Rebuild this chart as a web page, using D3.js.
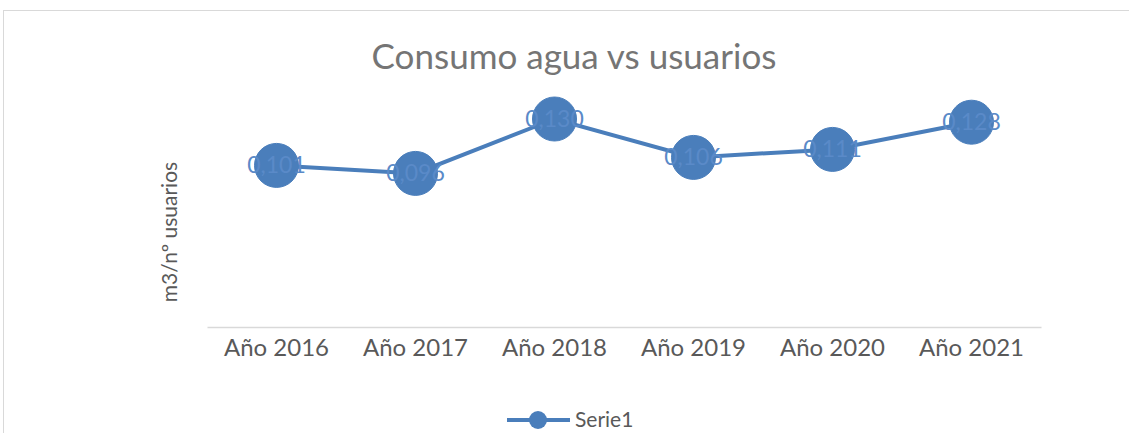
<!DOCTYPE html>
<html>
<head>
<meta charset="utf-8">
<script src="https://cdn.jsdelivr.net/npm/d3@7"></script>
<style>
  body { margin: 0; background: #fff; }
  text { font-family: Lato, 'Open Sans', sans-serif; }
</style>
</head>
<body>
<svg id="chart" width="1129" height="433"></svg>
<script>
let categories = ['Año 2016', 'Año 2017', 'Año 2018', 'Año 2019', 'Año 2020', 'Año 2021'];
let values = [0.101, 0.096, 0.130, 0.106, 0.111, 0.128];
let valueLabels = ['0,101', '0,096', '0,130', '0,106', '0,111', '0,128'];
let yDomain = [0, 0.14];

let blue = '#4a7ebb';
let plotLeft = 207;
let plotRight = 1041;
let plotTop = 103;
let plotBottom = 327;

const svg = d3.select('#chart');

// chart frame
svg.append('rect')
  .attr('x', 3.5)
  .attr('y', 10.5)
  .attr('width', 1140)
  .attr('height', 440)
  .attr('fill', '#fff')
  .attr('stroke', '#d9d9d9')
  .attr('stroke-width', 1);

let x = d3.scaleBand()
  .domain(categories)
  .range([plotLeft, plotRight]);

let y = d3.scaleLinear()
  .domain(yDomain)
  .range([plotBottom, plotTop]);

// title
svg.append('text')
  .attr('x', 574)
  .attr('y', 69)
  .attr('text-anchor', 'middle')
  .style('font-size', '35px')
  .style('fill', '#757575')
  .text('Consumo agua vs usuarios');

// x axis
let xAxis = svg.append('g')
  .attr('transform', 'translate(0,' + plotBottom + ')')
  .call(d3.axisBottom(x).tickSize(0).tickPadding(12));
xAxis.select('.domain').attr('stroke', '#d9d9d9').attr('stroke-width', 1.5);
xAxis.selectAll('text')
  .style('font-size', '24px')
  .style('fill', '#595959')
  .style('font-family', 'Lato, sans-serif');

// y axis title
svg.append('text')
  .attr('transform', 'translate(177,' + 232 + ') rotate(-90)')
  .attr('text-anchor', 'middle')
  .style('font-size', '21px')
  .style('fill', '#595959')
  .text('m3/nº usuarios');

let cx = function (d, i) { return x(categories[i]) + x.bandwidth() / 2; };

let line = d3.line()
  .x(function (d, i) { return cx(d, i); })
  .y(function (d) { return y(d); });

svg.append('path')
  .attr('d', line(values))
  .attr('fill', 'none')
  .attr('stroke', blue)
  .attr('stroke-width', 4);

svg.selectAll('.marker')
  .data(values)
  .enter()
  .append('circle')
  .attr('class', 'marker')
  .attr('cx', cx)
  .attr('cy', function (d) { return y(d); })
  .attr('r', 22)
  .attr('fill', blue)
  .attr('stroke', blue)
  .attr('stroke-width', 1);

svg.selectAll('.valueLabel')
  .data(values)
  .enter()
  .append('text')
  .attr('class', 'valueLabel')
  .attr('x', cx)
  .attr('y', function (d) { return y(d) + 8; })
  .attr('text-anchor', 'middle')
  .style('font-size', '23px')
  .style('fill', '#5a8ac8')
  .text(function (d, i) { return valueLabels[i]; });

// legend
let legend = svg.append('g').attr('transform', 'translate(507,420)');
legend.append('line')
  .attr('x1', 0).attr('x2', 63)
  .attr('y1', 0).attr('y2', 0)
  .attr('stroke', blue)
  .attr('stroke-width', 4);
legend.append('circle')
  .attr('cx', 31).attr('cy', 0).attr('r', 9)
  .attr('fill', blue);
legend.append('text')
  .attr('x', 68).attr('y', 7)
  .style('font-size', '21px')
  .style('fill', '#595959')
  .text('Serie1');
</script>
</body>
</html>
